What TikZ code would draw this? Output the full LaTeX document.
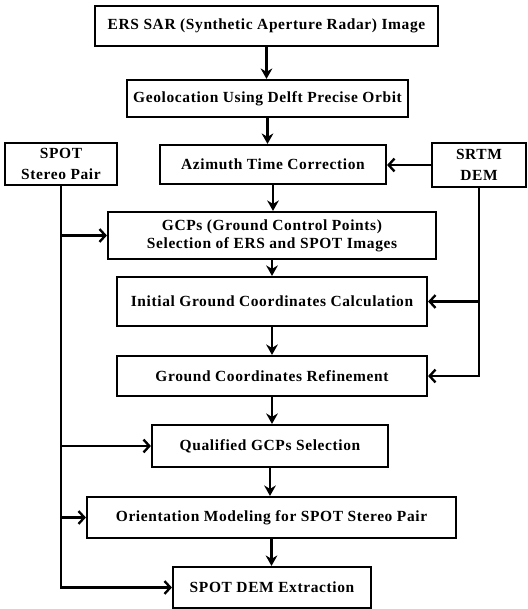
\documentclass[tikz,border=0pt]{standalone}
\usepackage{fontspec}
\setmainfont{Liberation Serif}[LetterSpace=4]
\usetikzlibrary{arrows.meta, positioning, calc}

\begin{document}
\begin{tikzpicture}[
    x=0.03cm, y=-0.03cm,
    font=\fontsize{13.2}{15.5}\selectfont\bfseries,
    proses/.style={draw, line width=1.8pt, align=center, inner sep=2pt},
    sumber/.style={proses, font=\fontsize{13.2}{17.5}\selectfont\bfseries},
    garis/.style={line width=2.2pt},
    panah/.style={garis, -{Stealth[length=9pt, width=10pt, inset=3pt]}},
    cabang/.style={garis, -{Straight Barb[length=5pt, width=11pt, line width=2pt]}}
  ]
    \useasboundingbox (0,0) rectangle (528,609);
    % alur utama
    \node[proses, minimum width=10.29cm, minimum height=1.2cm]  (ers)  at (266.5,26)  {ERS SAR (Synthetic Aperture Radar) Image};
    \node[proses, minimum width=8.43cm,  minimum height=1.11cm] (geo)  at (267.5,98.5) {Geolocation Using Delft Precise Orbit};
    \node[proses, minimum width=6.78cm,  minimum height=1.17cm] (azi)  at (273,164.5) {Azimuth Time Correction};
    \node[proses, minimum width=9.84cm,  minimum height=1.41cm] (gcp)  at (272,235.5) {GCPs (Ground Control Points)\\Selection of ERS and SPOT Images};
    \node[proses, minimum width=9.3cm,   minimum height=1.47cm] (init) at (272,301.5) {Initial Ground Coordinates Calculation};
    \node[proses, minimum width=9.3cm,   minimum height=1.2cm]  (ref)  at (272,376)   {Ground Coordinates Refinement};
    \node[proses, minimum width=7.08cm,  minimum height=1.26cm] (qual) at (270,446)   {Qualified GCPs Selection};
    \node[proses, minimum width=11.07cm, minimum height=1.23cm] (ori)  at (271.5,517.5) {Orientation Modeling for SPOT Stereo Pair};
    \node[proses, minimum width=5.94cm,  minimum height=1.23cm] (ext)  at (272,587.5) {SPOT DEM Extraction};
    % data masukan
    \node[sumber, minimum width=3.36cm, minimum height=1.26cm] (spot) at (61,164)  {SPOT\\Stereo Pair};
    \node[sumber, minimum width=2.82cm, minimum height=1.32cm] (srtm) at (479,165) {SRTM\\DEM};

    \foreach \a/\b in {ers/geo, geo/azi, azi/gcp, gcp/init, init/ref, ref/qual, qual/ori, ori/ext}
      \draw[panah] (\a.south) -- (\a.south |- \b.north);

    % cabang SPOT
    \draw[garis] (spot.south) -- (spot.south |- ori.west);
    \draw[cabang] (spot.south |- gcp.west) -- (gcp.west);
    \draw[cabang] (spot.south |- qual.west) -- (qual.west);
    \draw[cabang] (spot.south |- ori.west) -- (ori.west);
    \draw[cabang] (spot.south) |- (ext.west);

    % cabang SRTM
    \draw[cabang] (srtm.west) -- (srtm.west -| azi.east);
    \draw[cabang] (srtm.south |- init.east) -- (init.east);
    \draw[cabang] (srtm.south) |- (ref.east);
  \end{tikzpicture}
\end{document}
